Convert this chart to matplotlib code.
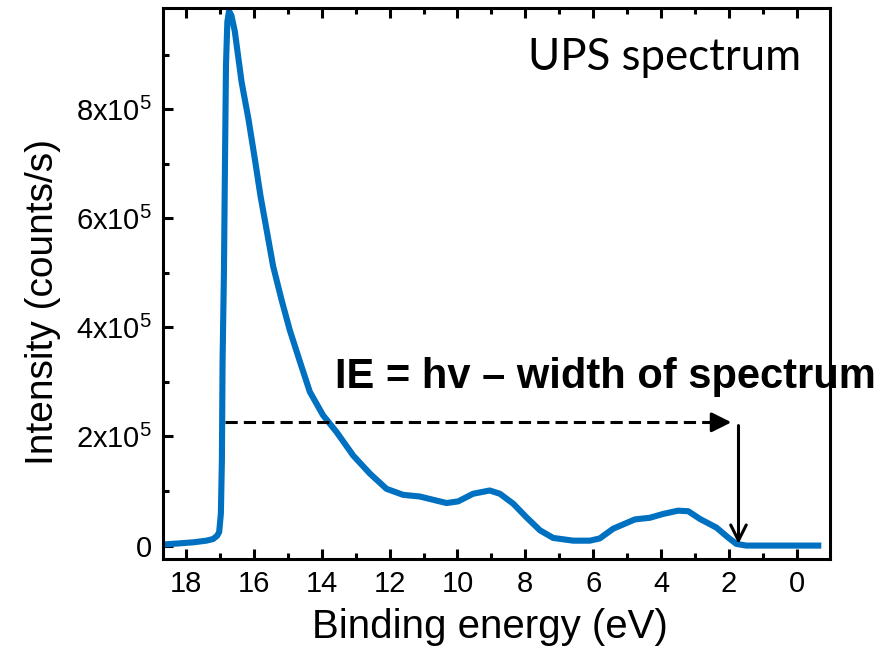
import matplotlib
matplotlib.use("Agg")
import matplotlib.pyplot as plt
import numpy as np
from matplotlib.ticker import MultipleLocator, FixedLocator

plt.rcParams["font.family"] = ["Liberation Sans", "DejaVu Sans"]
plt.rcParams["mathtext.fontset"] = "custom"
plt.rcParams["mathtext.rm"] = "Liberation Sans"
plt.rcParams["mathtext.it"] = "Liberation Sans"

# UPS spectrum: binding energy (eV) vs intensity (1e5 counts/s)
energy_ev = [18.67, 18.2, 17.78, 17.4, 17.2, 17.08, 17.02, 16.97, 16.94, 16.92,
             16.88, 16.85, 16.82, 16.78, 16.73, 16.66, 16.56, 16.36, 16.16, 15.97,
             15.8, 15.62, 15.43, 15.18, 14.94, 14.64, 14.35, 13.96, 13.56, 13.07,
             12.58, 12.09, 11.6, 11.11, 10.72, 10.32, 9.98, 9.54, 9.05, 8.75,
             8.36, 7.97, 7.57, 7.18, 6.59, 6.1, 5.81, 5.41, 4.77, 4.33,
             3.94, 3.5, 3.2, 2.86, 2.37, 2.03, 1.78, 1.49, -0.72]
intensity_1e5 = [0.02, 0.04, 0.06, 0.09, 0.12, 0.18, 0.25, 0.59, 1.57, 3.4,
                 5.0, 6.97, 8.8, 9.6, 9.8, 9.72, 9.43, 8.5, 7.83, 7.09,
                 6.4, 5.78, 5.12, 4.5, 3.95, 3.37, 2.82, 2.39, 2.08, 1.65,
                 1.32, 1.04, 0.93, 0.9, 0.84, 0.78, 0.81, 0.95, 1.01, 0.95,
                 0.77, 0.52, 0.28, 0.14, 0.09, 0.09, 0.13, 0.31, 0.48, 0.51,
                 0.58, 0.64, 0.63, 0.49, 0.33, 0.15, 0.03, 0.0, 0.0]

x_ticks = [18, 16, 14, 12, 10, 8, 6, 4, 2, 0]
y_ticks = [0, 2e5, 4e5, 6e5, 8e5]
y_tick_labels = ["0", "2x10$^{5}$", "4x10$^{5}$", "6x10$^{5}$", "8x10$^{5}$"]

# width-of-spectrum annotation (eV, counts/s)
width_start_ev = 16.85
width_end_ev = 1.93
width_level = 2.26e5
cutoff_ev = 1.72
cutoff_top = 2.2e5
cutoff_bottom = 0.03e5

fig = plt.figure(figsize=(8.85, 6.51), dpi=100)
ax = fig.add_axes([0.184, 0.141, 0.754, 0.847])

ax.plot(energy_ev, np.array(intensity_1e5) * 1e5, color="#0070C0", lw=4.4,
        solid_joinstyle="round", solid_capstyle="butt", zorder=3)

ax.set_xlim(18.68, -0.98)
ax.set_ylim(-0.25e5, 9.86e5)

ax.xaxis.set_major_locator(FixedLocator(x_ticks))
ax.xaxis.set_minor_locator(MultipleLocator(1))
ax.yaxis.set_major_locator(FixedLocator(y_ticks))
ax.yaxis.set_minor_locator(MultipleLocator(1e5))
ax.set_yticklabels(y_tick_labels)

ax.tick_params(which="both", direction="in", top=True, right=False,
               width=2.2, labelsize=21, pad=8)
ax.tick_params(which="major", length=7.5)
ax.tick_params(which="minor", length=4)
for sp in ax.spines.values():
    sp.set_linewidth(2.2)
    sp.set_zorder(5)

ax.set_xlabel("Binding energy (eV)", fontsize=29)
ax.set_ylabel("Intensity (counts/s)", fontsize=28)
ax.xaxis.set_label_coords(0.49, -0.089)
ax.yaxis.set_label_coords(-0.152, 0.466)

# dashed horizontal arrow: width of spectrum
ax.plot([width_start_ev, width_end_ev + 0.45], [width_level, width_level],
        color="black", lw=2.2, ls=(0, (4, 2)), zorder=4)
ax.annotate("", xy=(width_end_ev, width_level),
            xytext=(width_end_ev + 0.5, width_level),
            arrowprops=dict(arrowstyle="-|>", color="black", lw=2.2,
                            mutation_scale=30, shrinkA=0, shrinkB=0),
            zorder=4)

# vertical arrow marking the cutoff
ax.annotate("", xy=(cutoff_ev, cutoff_bottom), xytext=(cutoff_ev, cutoff_top),
            arrowprops=dict(arrowstyle="->", color="black", lw=2.2,
                            mutation_scale=28, shrinkA=0, shrinkB=0),
            zorder=4)

ax.text(13.61, 2.89e5, "IE = hv \u2013 width of spectrum", fontsize=30,
        fontweight="bold", ha="left", va="baseline", clip_on=False, zorder=2)
ax.text(0.957, 0.909, "UPS spectrum", transform=ax.transAxes, fontsize=31.5,
        family=["Lato", "DejaVu Sans"], ha="right", va="center")

fig.savefig("out.png", dpi=100)
